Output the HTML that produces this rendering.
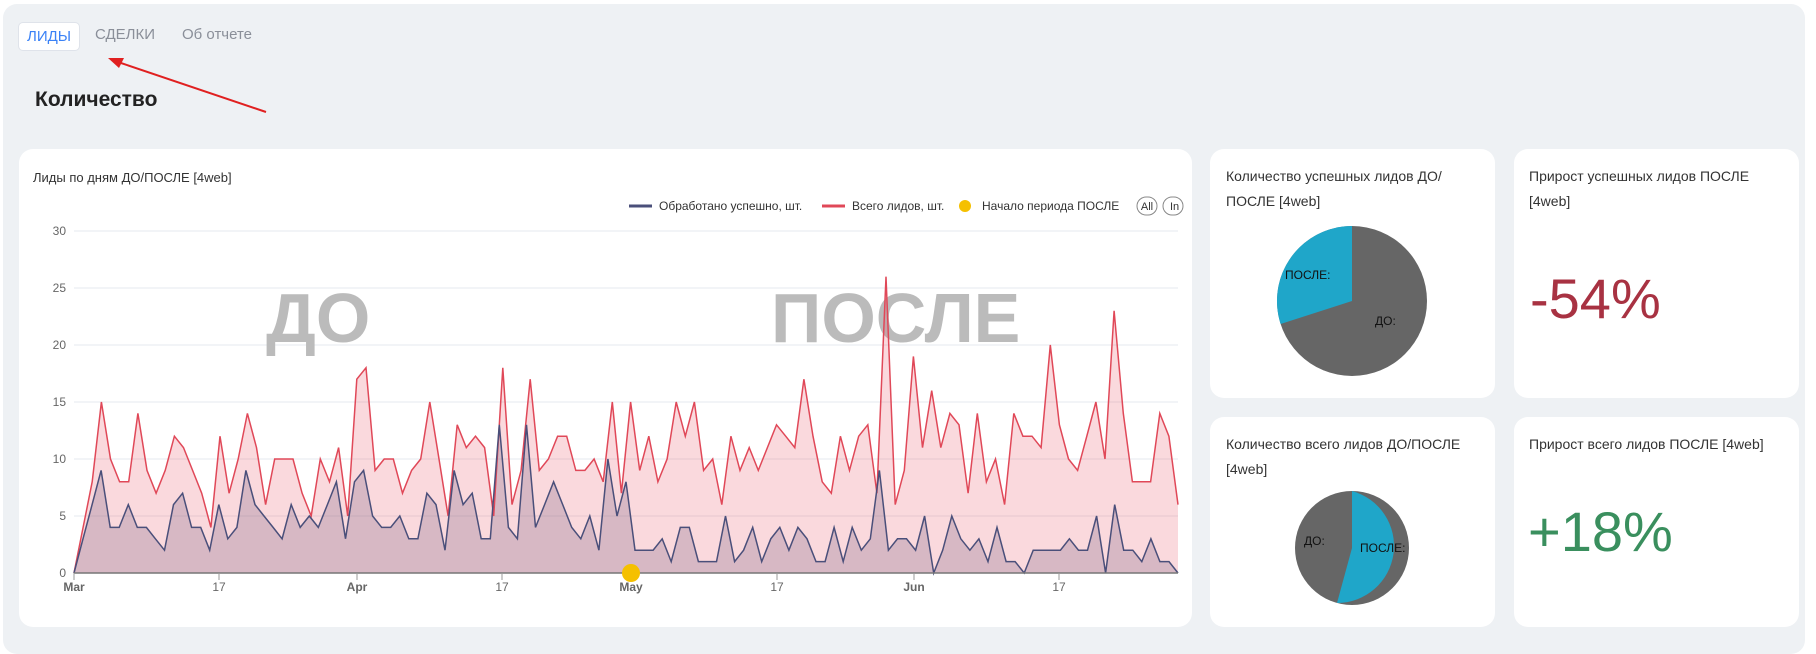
<!DOCTYPE html>
<html><head><meta charset="utf-8"><style>
body{margin:0;width:1816px;height:646px;background:#fff;font-family:"Liberation Sans","DejaVu Sans",sans-serif;overflow:hidden;position:relative}
.panel{position:absolute;left:3px;top:4px;width:1802px;height:650px;background:#eef1f4;border-radius:14px}
.card{position:absolute;background:#fff;border-radius:14px}
.t{position:absolute;font-size:14px;color:#333;line-height:25px}
</style></head><body>
<div class="panel"></div>
<div style="position:absolute;left:18px;top:22px;width:60px;height:27px;background:#fff;border:1px solid #dfe3ea;border-radius:5px;color:#3b82f6;font-size:15px;line-height:27px;text-align:center">ЛИДЫ</div>
<div style="position:absolute;left:95px;top:26px;color:#8a8f99;font-size:15px">СДЕЛКИ</div>
<div style="position:absolute;left:182px;top:26px;color:#8a8f99;font-size:15px">Об отчете</div>
<div style="position:absolute;left:35px;top:88px;color:#222;font-size:21px;font-weight:bold">Количество</div>
<svg style="position:absolute;left:0;top:0" width="300" height="130"><line x1="266" y1="112" x2="118" y2="62" stroke="#e02020" stroke-width="2"/><polygon points="108,58 124,58 119,68" fill="#e02020"/></svg>

<div class="card" style="left:19px;top:149px;width:1173px;height:478px"></div>
<div class="t" style="left:33px;top:165px;font-size:13px">Лиды по дням ДО/ПОСЛЕ [4web]</div>
<svg id="ch" style="position:absolute;left:0;top:0" width="1190" height="640"></svg>

<div class="card" style="left:1210px;top:149px;width:285px;height:249px"></div>
<div class="card" style="left:1514px;top:149px;width:285px;height:249px"></div>
<div class="card" style="left:1210px;top:417px;width:285px;height:210px"></div>
<div class="card" style="left:1514px;top:417px;width:285px;height:210px"></div>
<div class="t" style="left:1226px;top:164px">Количество успешных лидов ДО/<br>ПОСЛЕ [4web]</div>
<div class="t" style="left:1529px;top:164px">Прирост успешных лидов ПОСЛЕ<br>[4web]</div>
<div class="t" style="left:1226px;top:432px">Количество всего лидов ДО/ПОСЛЕ<br>[4web]</div>
<div class="t" style="left:1529px;top:432px">Прирост всего лидов ПОСЛЕ [4web]</div>
<div style="position:absolute;left:1530px;top:266px;font-size:56px;color:#a83242">-54%</div>
<div style="position:absolute;left:1528px;top:499px;font-size:56px;color:#3a8f5e">+18%</div>
<svg style="position:absolute;left:1210px;top:149px" width="285" height="478">
<circle cx="142" cy="152" r="75" fill="#666"/>
<path d="M142,152 L142,77 A75,75 0 0,0 70.6,175 Z" fill="#1fa6c9"/>
<text x="75" y="130" font-size="12" fill="#111">ПОСЛЕ:</text>
<text x="165" y="176" font-size="12" fill="#111">ДО:</text>
<circle cx="142" cy="399" r="57" fill="#666"/>
<path d="M142,399 L142,342 A57,57 0 0,1 127,454 Z" fill="#1fa6c9"/>
<text x="94" y="396" font-size="12" fill="#111">ДО:</text>
<text x="150" y="403" font-size="12" fill="#111">ПОСЛЕ:</text>
</svg>
<script>
var R=[0,4,8,15,10,8,8,14,9,7,9,12,11,9,7,4,12,7,10,14,11,6,10,10,10,7,5,10,8,11,5,17,18,9,10,10,7,9,10,15,10,5,13,11,12,11,5,18,6,9,17,9,10,12,12,9,9,10,8,15,7,15,9,12,8,10,15,12,15,9,10,6,12,9,11,9,11,13,12,11,17,12,8,7,12,9,12,13,7,26,6,9,19,11,16,11,14,13,7,14,8,10,6,14,12,12,11,20,13,10,9,12,15,10,23,14,8,8,8,14,12,6];
var B=[0,3,6,9,4,4,6,4,4,3,2,6,7,4,4,2,6,3,4,9,6,5,4,3,6,4,5,4,6,8,3,8,9,5,4,4,5,3,3,7,6,2,9,6,7,3,3,13,4,3,13,4,6,8,6,4,3,5,2,10,5,8,2,2,2,3,1,4,4,1,1,1,5,1,2,4,1,3,4,2,4,3,1,1,4,1,4,2,3,9,2,3,3,2,5,0,2,5,3,2,3,1,4,1,1,0,2,2,2,2,3,2,2,5,0,6,2,2,1,3,1,1,0];
var x0=74,x1=1178,y0=573,k=11.4,s='';
function X(i,n){return x0+i*(x1-x0)/(n-1)}
function P(a){return a.map(function(v,i){return X(i,a.length).toFixed(1)+','+(y0-v*k).toFixed(1)}).join(' ')}
for(var v=0;v<=30;v+=5){var y=y0-v*k;s+='<line x1="'+x0+'" x2="'+x1+'" y1="'+y+'" y2="'+y+'" stroke="#e6e9ef"/><text x="66" y="'+(y+4)+'" font-size="12" fill="#666" text-anchor="end">'+v+'</text>';}
s+='<text x="266" y="342" font-size="70" font-weight="bold" fill="#bbb">ДО</text><text x="771" y="342" font-size="70" font-weight="bold" fill="#bbb">ПОСЛЕ</text>';
s+='<polygon points="'+x0+','+y0+' '+P(R)+' '+x1+','+y0+'" fill="rgba(232,80,100,0.22)"/>';
s+='<polygon points="'+x0+','+y0+' '+P(B)+' '+x1+','+y0+'" fill="rgba(90,70,110,0.22)"/>';
s+='<polyline points="'+P(R)+'" fill="none" stroke="#e04858" stroke-width="1.5"/>';
s+='<polyline points="'+P(B)+'" fill="none" stroke="#4a4f7a" stroke-width="1.5"/>';
s+='<line x1="'+x0+'" x2="'+x1+'" y1="'+y0+'" y2="'+y0+'" stroke="#777" stroke-width="1.5"/>';
var L=[['Mar',74,1],['17',219],['Apr',357,1],['17',502],['May',631,1],['17',777],['Jun',914,1],['17',1059]];
L.forEach(function(l){s+='<line x1="'+l[1]+'" x2="'+l[1]+'" y1="573" y2="580" stroke="#999"/><text x="'+l[1]+'" y="591" font-size="12" fill="#666" text-anchor="middle"'+(l[2]?' font-weight="bold"':'')+'>'+l[0]+'</text>'});
s+='<circle cx="631" cy="573" r="9" fill="#f5c000"/>';
s+='<line x1="629" x2="652" y1="206" y2="206" stroke="#4a4f7a" stroke-width="3"/><text x="659" y="210" font-size="12" fill="#333">Обработано успешно, шт.</text>';
s+='<line x1="822" x2="845" y1="206" y2="206" stroke="#e04858" stroke-width="3"/><text x="852" y="210" font-size="12" fill="#333">Всего лидов, шт.</text>';
s+='<circle cx="965" cy="206" r="6" fill="#f5c000"/><text x="982" y="210" font-size="12" fill="#333">Начало периода ПОСЛЕ</text>';
s+='<rect x="1137" y="197" width="20" height="18" rx="9" fill="none" stroke="#888"/><text x="1147" y="210" font-size="11" fill="#333" text-anchor="middle">All</text>';
s+='<rect x="1163" y="197" width="20" height="18" rx="9" fill="none" stroke="#888"/><text x="1170" y="210" font-size="11" fill="#333">In</text>';
document.getElementById('ch').innerHTML=s;
</script>
</body></html>
